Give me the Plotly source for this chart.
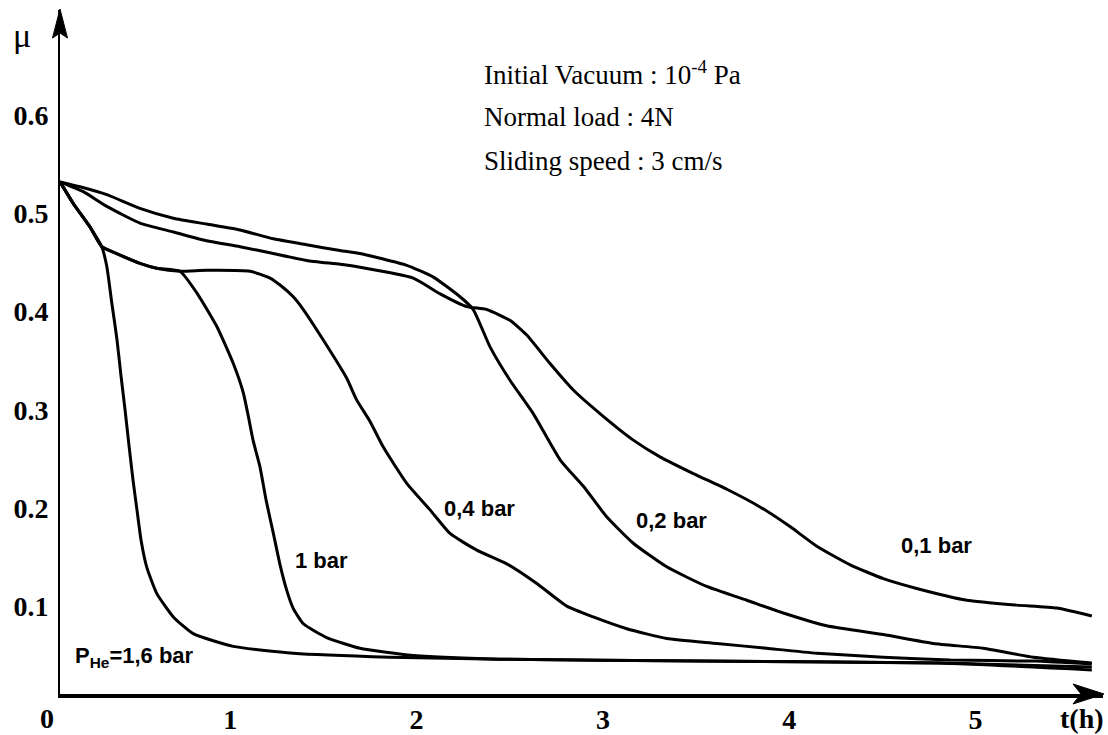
import plotly.graph_objects as go

# ---------------- data (t in hours, mu = friction coefficient) ----------------
t_16 = [0.086, 0.157, 0.247, 0.310, 0.337, 0.363, 0.392, 0.413, 0.435, 0.456, 0.478,
        0.499, 0.521, 0.551, 0.605, 0.694, 0.801, 1.016, 1.338, 1.857, 2.448, 3.521,
        4.809, 5.624]
mu_16 = [0.532, 0.510, 0.486, 0.466, 0.446, 0.410, 0.371, 0.335, 0.300, 0.264, 0.228,
         0.198, 0.167, 0.140, 0.113, 0.089, 0.072, 0.059, 0.052, 0.048, 0.046, 0.044,
         0.042, 0.035]

t_10 = [0.086, 0.157, 0.247, 0.310, 0.390, 0.515, 0.605, 0.730, 0.820, 0.927, 1.016,
        1.070, 1.097, 1.122, 1.159, 1.192, 1.231, 1.267, 1.303, 1.337, 1.392, 1.517,
        1.696, 1.965, 2.448, 3.521, 4.809, 5.624]
mu_10 = [0.532, 0.510, 0.486, 0.466, 0.459, 0.449, 0.444, 0.441, 0.419, 0.385, 0.347,
         0.317, 0.293, 0.269, 0.242, 0.208, 0.174, 0.142, 0.116, 0.098, 0.082, 0.068,
         0.057, 0.050, 0.046, 0.044, 0.042, 0.038]

t_04 = [0.086, 0.157, 0.247, 0.310, 0.390, 0.515, 0.605, 0.730, 0.873, 1.106, 1.213,
        1.267, 1.338, 1.392, 1.499, 1.625, 1.678, 1.750, 1.821, 1.947, 2.072, 2.179,
        2.323, 2.484, 2.645, 2.806, 2.948, 3.128, 3.342, 3.611, 3.879, 4.148, 4.505,
        4.863, 5.310, 5.624]
mu_04 = [0.532, 0.510, 0.486, 0.466, 0.459, 0.449, 0.444, 0.441, 0.442, 0.441, 0.434,
         0.427, 0.415, 0.402, 0.371, 0.332, 0.310, 0.288, 0.262, 0.225, 0.198, 0.174,
         0.157, 0.143, 0.123, 0.100, 0.089, 0.077, 0.067, 0.062, 0.057, 0.052, 0.048,
         0.045, 0.044, 0.041]

t_02 = [0.086, 0.193, 0.337, 0.515, 0.694, 0.873, 1.052, 1.231, 1.410, 1.589, 1.696,
        1.947, 2.090, 2.233, 2.304, 2.394, 2.501, 2.626, 2.770, 2.895, 3.020, 3.163,
        3.342, 3.557, 3.772, 3.968, 4.201, 4.505, 4.773, 5.042, 5.310, 5.624]
mu_02 = [0.532, 0.527, 0.519, 0.505, 0.495, 0.489, 0.483, 0.474, 0.468, 0.462, 0.459,
         0.447, 0.435, 0.415, 0.402, 0.364, 0.330, 0.296, 0.249, 0.222, 0.191, 0.164,
         0.140, 0.120, 0.106, 0.093, 0.080, 0.071, 0.062, 0.057, 0.048, 0.042]

t_01 = [0.086, 0.211, 0.337, 0.515, 0.694, 0.873, 1.052, 1.231, 1.410, 1.589, 1.696,
        1.982, 2.126, 2.269, 2.376, 2.501, 2.591, 2.716, 2.841, 2.984, 3.163, 3.306,
        3.485, 3.665, 3.843, 4.004, 4.148, 4.327, 4.505, 4.684, 4.953, 5.221, 5.436,
        5.624]
mu_01 = [0.532, 0.522, 0.507, 0.490, 0.481, 0.472, 0.466, 0.459, 0.452, 0.448, 0.445,
         0.434, 0.418, 0.405, 0.402, 0.391, 0.376, 0.347, 0.320, 0.296, 0.269, 0.252,
         0.235, 0.219, 0.201, 0.181, 0.161, 0.142, 0.128, 0.118, 0.106, 0.101, 0.098,
         0.090]

series = [(t_16, mu_16), (t_10, mu_10), (t_04, mu_04), (t_02, mu_02), (t_01, mu_01)]

x_ticks = [1, 2, 3, 4, 5]
y_ticks = [0.1, 0.2, 0.3, 0.4, 0.5, 0.6]
y_ticktext = ["0.1", "0.2", "0.3", "0.4", "0.5", "0.6"]

curve_labels = [
    ("1 bar", 1.492, 0.146),
    ("0,4 bar", 2.335, 0.199),
    ("0,2 bar", 3.366, 0.187),
    ("0,1 bar", 4.788, 0.162),
]
phe_label = ("P<sub>He</sub>=1,6 bar", 0.156, 0.048)

info_lines = ["Initial Vacuum : 10<sup>-4</sup> Pa", "Normal load : 4N", "Sliding speed : 3 cm/s"]
info_y = [0.643, 0.598, 0.553]
info_x = 2.351

# ---------------- layout geometry ----------------
W, H = 1108, 735
L, R, T, B = 60, 5, 10, 41
X_RANGE = [0.0859, 5.684]
Y_RANGE = [0.0105, 0.707]
pw, ph = W - L - R, H - T - B


def paper(px, py):
    return (px - L) / pw, (H - B - py) / ph


fig = go.Figure()
for t, mu in series:
    fig.add_trace(go.Scatter(x=t, y=mu, mode="lines",
                             line=dict(color="black", width=3, shape="spline", smoothing=0.5),
                             showlegend=False, hoverinfo="skip"))

serif_bold = dict(family="Liberation Serif", size=28, color="black", weight="bold")
sans = dict(family="Liberation Sans", size=22, color="black", weight="bold")
serif = dict(family="Liberation Serif", size=27, color="black")

annotations = []
for txt, x, y in curve_labels:
    annotations.append(dict(x=x, y=y, xref="x", yref="y", text=txt, showarrow=False,
                            font=sans, xanchor="center", yanchor="middle"))
annotations.append(dict(x=phe_label[1], y=phe_label[2], xref="x", yref="y", text=phe_label[0],
                        showarrow=False, font=sans, xanchor="left", yanchor="middle"))
for txt, y in zip(info_lines, info_y):
    annotations.append(dict(x=info_x, y=y, xref="x", yref="y", text=txt, showarrow=False,
                            font=serif, xanchor="left", yanchor="middle"))

# axis titles / origin label
mx, my = paper(22, 36)
annotations.append(dict(x=mx, y=my, xref="paper", yref="paper", text="μ", showarrow=False,
                        font=dict(family="Liberation Serif", size=34, color="black"),
                        xanchor="center", yanchor="middle"))
tx, ty = paper(1106, 718)
annotations.append(dict(x=tx, y=ty, xref="paper", yref="paper", text="t(h)", showarrow=False,
                        font=serif_bold, xanchor="right", yanchor="middle"))
ox, oy = paper(47, 718)
annotations.append(dict(x=ox, y=oy, xref="paper", yref="paper", text="0", showarrow=False,
                        font=serif_bold, xanchor="center", yanchor="middle"))


def path(points):
    pts = [paper(*p) for p in points]
    return "M " + " L ".join(f"{x:.5f},{y:.5f}" for x, y in pts) + " Z"


shapes = [
    dict(type="path", xref="paper", yref="paper",
         path=path([(60, 9), (52.5, 38), (60, 33), (67.5, 38)]),
         fillcolor="black", line=dict(color="black", width=1)),
    dict(type="path", xref="paper", yref="paper",
         path=path([(1104, 694), (1073, 684), (1081, 694), (1073, 704)]),
         fillcolor="black", line=dict(color="black", width=1)),
]

fig.update_layout(
    width=W, height=H,
    margin=dict(l=L, r=R, t=T, b=B, autoexpand=False),
    paper_bgcolor="white", plot_bgcolor="white",
    showlegend=False,
    annotations=annotations,
    shapes=shapes,
    xaxis=dict(range=X_RANGE, showline=True, linewidth=3.5, linecolor="black",
               showgrid=False, zeroline=False, ticks="", tickvals=x_ticks,
               tickfont=serif_bold, fixedrange=True, automargin=False,
               ticklabelstandoff=-2),
    yaxis=dict(range=Y_RANGE, showline=True, linewidth=2, linecolor="black",
               showgrid=False, zeroline=False, ticks="", tickvals=y_ticks,
               ticktext=y_ticktext, tickfont=serif_bold, fixedrange=True,
               automargin=False, ticklabelstandoff=4),
)

fig.write_html("out.html", config={"displayModeBar": False},
               post_script="document.body.style.margin='0px';document.body.style.overflow='hidden';")
